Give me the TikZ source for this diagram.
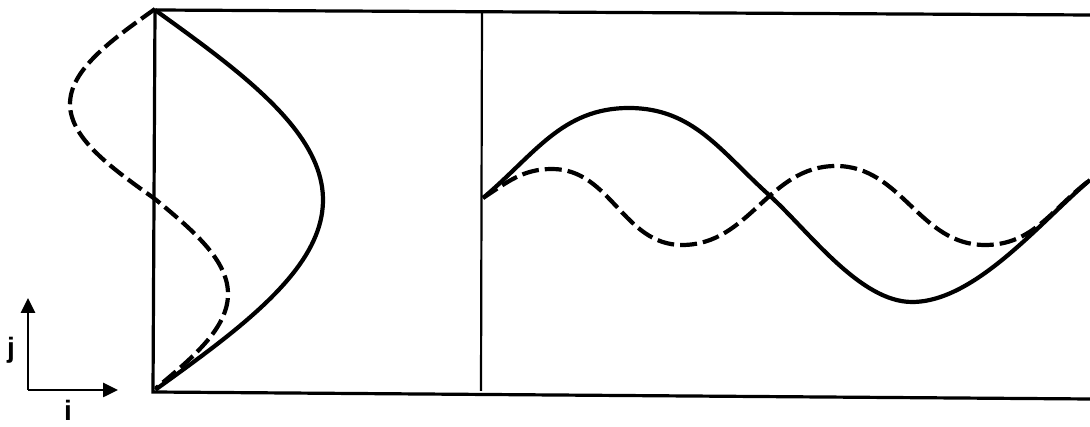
\documentclass[tikz,border=0pt]{standalone}
\usepackage{fontspec}
\setmainfont{Liberation Sans}
\usetikzlibrary{arrows.meta}
\tikzset{
  frame/.style={line width=3.2pt},
  divider/.style={line width=2.2pt},
  solidcurve/.style={line width=4.2pt},
  dashcurve/.style={line width=4.2pt, dash pattern=on 17pt off 6pt},
  axis/.style={line width=2.6pt, -{Triangle[length=15pt,width=14pt]}},
  lbl/.style={font=\fontsize{28}{28}\selectfont\bfseries, inner sep=0pt, anchor=base}
}
\begin{document}
\begin{tikzpicture}[x=1pt,y=1pt]
\useasboundingbox (0,0) rectangle (1090,427);
% frame
\coordinate (TL) at (155,417);
\coordinate (TR) at (1090,412);
\coordinate (BL) at (153,35);
\coordinate (BR) at (1090,28);
\coordinate (DT) at (482,416);
\coordinate (DB) at (481,36);
\draw[frame] (TR) -- (TL) -- (BL) -- (BR);
\draw[divider] (DT) -- (DB);
% left panel curves
\draw[solidcurve] plot[domain=0:1, samples=80, variable=\t]
  ({155+168*sin(180*\t)}, {417-380*\t});
\draw[dashcurve] plot[domain=0:1, samples=120, variable=\t]
  ({155-(sin(360*\t)>0 ? 85 : 73)*sin(360*\t)}, {418-380*\t});
% right panel curves
\coordinate (S0) at (483,229);
\coordinate (S1) at (629,319);
\coordinate (S2) at (769,232);
\coordinate (S3) at (912,125);
\coordinate (S4) at (1090,247);
\draw[solidcurve] (S0) to[out=40,in=180] (S1) to[out=0,in=138] (S2)
  to[out=-42,in=180,looseness=0.75] (S3) to[out=0,in=220,looseness=0.75] (S4);
\coordinate (D1) at (552,258);
\coordinate (D2) at (682,182);
\coordinate (D3) at (836,261);
\coordinate (D4) at (985,182);
\draw[dashcurve] (S0) to[out=33,in=180] (D1) to[out=0,in=180] (D2)
  to[out=0,in=180] (D3) to[out=0,in=180] (D4) to[out=0,in=217] (S4);
% axes
\coordinate (O) at (28,37);
\coordinate (J) at (28,129);
\coordinate (I) at (118,37);
\draw[axis] (O) -- (J);
\draw[axis] (O) -- (I);
\node[lbl] (jl) at (11,69) {j};
\node[lbl] (il) at (68,6) {i};
\end{tikzpicture}
\end{document}
